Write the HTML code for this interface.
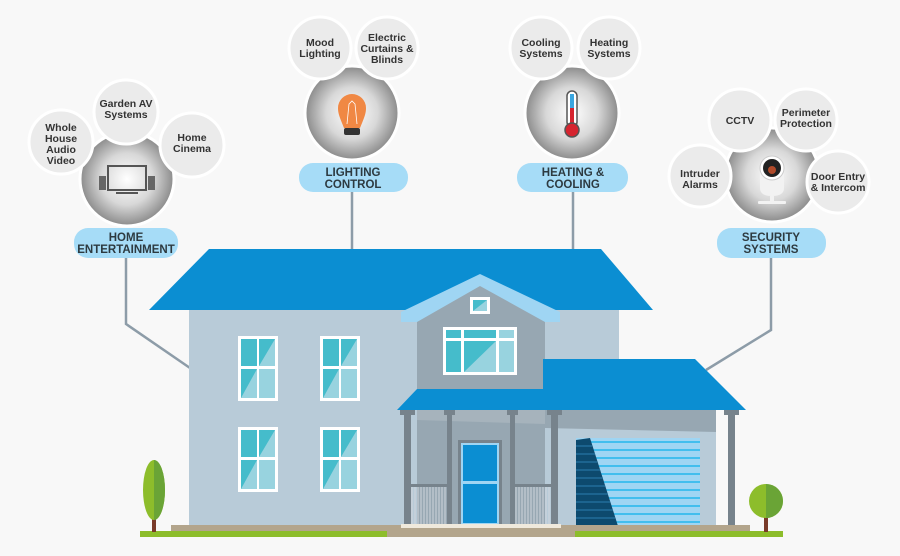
<!DOCTYPE html>
<html><head><meta charset="utf-8"><style>
html,body{margin:0;padding:0;background:#f8f8f8}
svg{display:block}
text{font-family:"Liberation Sans",sans-serif;font-weight:bold;fill:#333;text-anchor:middle}
.s{font-size:10.5px}
.l{font-size:11.5px;fill:#2d3a40}
</style></head><body>
<svg width="900" height="556" viewBox="0 0 900 556" xmlns="http://www.w3.org/2000/svg">
<defs>
<radialGradient id="g" cx="50%" cy="50%" r="50%"><stop offset="0" stop-color="#ffffff"/><stop offset="0.55" stop-color="#d8d8d8"/><stop offset="1" stop-color="#8a8a8a"/></radialGradient>
<g id="win"><rect x="0" y="0" width="40" height="65" fill="#fff"/>
<rect x="3" y="3" width="16" height="27" fill="#45bccb"/><rect x="21" y="3" width="16" height="27" fill="#98d3df"/>
<polygon points="21,3 37,3 21,30" fill="#45bccb"/>
<rect x="3" y="33" width="16" height="29" fill="#98d3df"/><polygon points="3,33 19,33 3,62" fill="#45bccb"/>
<rect x="21" y="33" width="16" height="29" fill="#98d3df"/></g>
</defs>
<rect width="900" height="556" fill="#f8f8f8"/>
<!-- connectors -->
<g stroke="#8d9ca8" stroke-width="2.5" fill="none">
<polyline points="126,257 126,324 190,368"/>
<line x1="352" y1="192" x2="352" y2="250"/>
<line x1="573" y1="192" x2="573" y2="250"/>
<polyline points="771,257 771,330 706,370"/>
</g>
<!-- house main -->
<rect x="189" y="305" width="430" height="222" fill="#b8cbd8"/>
<polygon points="209,249 601,249 653,310 149,310" fill="#0b8ed2"/>
<!-- gable -->
<polygon points="417,318 480,282 545,318 545,389 417,389" fill="#97a7b2"/>
<polygon points="401,312 480,274 560,312 560,322 545,322 480,286 417,322 401,322" fill="#9fd5f3"/>
<rect x="470" y="297" width="20" height="17" fill="#fff"/><rect x="473" y="300" width="14" height="11" fill="#98d3df"/><polygon points="473,300 487,300 473,311" fill="#45bccb"/>
<rect x="443" y="327" width="74" height="48" fill="#fff"/>
<rect x="446" y="330" width="15" height="8" fill="#45bccb"/><rect x="464" y="330" width="32" height="8" fill="#45bccb"/><rect x="499" y="330" width="15" height="8" fill="#98d3df"/>
<rect x="446" y="341" width="15" height="31" fill="#45bccb"/><rect x="464" y="341" width="32" height="31" fill="#98d3df"/><polygon points="464,341 496,341 464,372" fill="#45bccb"/><rect x="499" y="341" width="15" height="31" fill="#98d3df"/>
<!-- porch -->
<rect x="545" y="410" width="171" height="117" fill="#b8cbd8"/>
<polygon points="545,410 716,410 716,432 545,428" fill="#97a7b2"/>
<rect x="417" y="410" width="128" height="117" fill="#97a7b2"/>
<polygon points="417,410 545,410 545,424 417,420" fill="#a6b3bc"/>
<polygon points="417,389 543,389 543,359 695,359 746,410 397,410" fill="#0b8ed2"/>
<rect x="458" y="440" width="44" height="87" fill="#77838c"/>
<rect x="461" y="443" width="38" height="82" fill="#9fd5f3"/>
<rect x="463" y="445" width="34" height="36" fill="#0b8ed2"/><rect x="463" y="484" width="34" height="39" fill="#0b8ed2"/>
<!-- railings -->
<g fill="#77838c"><rect x="410" y="484" width="38" height="3"/><rect x="514" y="484" width="38" height="3"/></g>
<g stroke="#cfd6dc" stroke-width="1">
<path d="M412 487V525M415 487V525M418 487V525M421 487V525M424 487V525M427 487V525M430 487V525M433 487V525M436 487V525M439 487V525M442 487V525M445 487V525"/>
<path d="M516 487V525M519 487V525M522 487V525M525 487V525M528 487V525M531 487V525M534 487V525M537 487V525M540 487V525M543 487V525M546 487V525M549 487V525"/>
</g>
<g fill="#77838c">
<rect x="404" y="412" width="7" height="114"/><rect x="400" y="410" width="15" height="5"/>
<rect x="447" y="412" width="5" height="114"/><rect x="444" y="410" width="11" height="5"/>
<rect x="510" y="412" width="5" height="114"/><rect x="507" y="410" width="11" height="5"/>
<rect x="551" y="412" width="7" height="114"/><rect x="547" y="410" width="15" height="5"/>
<rect x="728" y="412" width="7" height="114"/><rect x="724" y="410" width="15" height="5"/>
</g>
<!-- garage door -->
<rect x="576" y="438" width="124" height="88" fill="#9fd5f3"/>
<g stroke="#23b6ec" stroke-width="1.5">
<path d="M576 442H700M576 450H700M576 458H700M576 466H700M576 474H700M576 482H700M576 490H700M576 498H700M576 506H700M576 514H700M576 522H700"/>
</g>
<polygon points="576,440 590,438 618,526 576,526" fill="#0d4a6e"/>
<g stroke="#2a7fb0" stroke-width="1"><path d="M576 446H592M576 454H595M576 462H597M576 470H600M576 478H603M576 486H605M576 494H608M576 502H610M576 510H613M576 518H615"/></g>
<!-- windows -->
<use href="#win" x="238" y="336"/><use href="#win" x="320" y="336"/>
<use href="#win" x="238" y="427"/><use href="#win" x="320" y="427"/>
<!-- ground -->
<rect x="171" y="525" width="579" height="7" fill="#b3a58c"/>
<rect x="401" y="524" width="160" height="4" fill="#efe9dc"/>
<rect x="140" y="531" width="643" height="6" fill="#8dbd2b"/>
<rect x="387" y="531" width="188" height="6" fill="#b3a58c"/>
<!-- trees -->
<rect x="152" y="505" width="4" height="27" fill="#7a3b2a"/>
<ellipse cx="154" cy="490" rx="11" ry="30" fill="#8dbd2b"/><path d="M154 460 A11 30 0 0 1 154 520Z" fill="#6aa436"/>
<rect x="764" y="505" width="4" height="27" fill="#7a3b2a"/>
<circle cx="766" cy="501" r="17" fill="#8dbd2b"/><path d="M766 484 A17 17 0 0 1 766 518Z" fill="#6aa436"/>

<!-- Home entertainment -->
<g stroke="#fff" stroke-width="3">
<circle cx="127" cy="179" r="47" fill="url(#g)"/>
<circle cx="61" cy="142" r="32" fill="#ebebeb"/><circle cx="126" cy="112" r="32" fill="#ebebeb"/><circle cx="192" cy="145" r="32" fill="#ebebeb"/>
<circle cx="352" cy="113" r="47" fill="url(#g)"/>
<circle cx="320" cy="48" r="31" fill="#ebebeb"/><circle cx="387" cy="48" r="31" fill="#ebebeb"/>
<circle cx="572" cy="113" r="47" fill="url(#g)"/>
<circle cx="541" cy="48" r="31" fill="#ebebeb"/><circle cx="609" cy="48" r="31" fill="#ebebeb"/>
<circle cx="772" cy="175" r="47" fill="url(#g)"/>
<circle cx="740" cy="120" r="31" fill="#ebebeb"/><circle cx="806" cy="120" r="31" fill="#ebebeb"/>
<circle cx="700" cy="176" r="31" fill="#ebebeb"/><circle cx="838" cy="182" r="31" fill="#ebebeb"/>
</g>
<text class="s" x="61" y="131">Whole</text><text class="s" x="61" y="142">House</text><text class="s" x="61" y="153">Audio</text><text class="s" x="61" y="164">Video</text>
<text class="s" x="126" y="107">Garden AV</text><text class="s" x="126" y="118">Systems</text>
<text class="s" x="192" y="141">Home</text><text class="s" x="192" y="152">Cinema</text>
<text class="s" x="320" y="46">Mood</text><text class="s" x="320" y="57">Lighting</text>
<text class="s" x="387" y="41">Electric</text><text class="s" x="387" y="52">Curtains &amp;</text><text class="s" x="387" y="63">Blinds</text>
<text class="s" x="541" y="46">Cooling</text><text class="s" x="541" y="57">Systems</text>
<text class="s" x="609" y="46">Heating</text><text class="s" x="609" y="57">Systems</text>
<text class="s" x="740" y="124">CCTV</text>
<text class="s" x="806" y="116">Perimeter</text><text class="s" x="806" y="127">Protection</text>
<text class="s" x="700" y="177">Intruder</text><text class="s" x="700" y="188">Alarms</text>
<text class="s" x="838" y="180">Door Entry</text><text class="s" x="838" y="191">&amp; Intercom</text>
<!-- icons -->
<rect x="108" y="166" width="38" height="24" fill="none" stroke="#555" stroke-width="2"/><rect x="116" y="192" width="22" height="2" fill="#555"/>
<rect x="99" y="176" width="7" height="14" fill="#666"/><rect x="148" y="176" width="7" height="14" fill="#666"/>
<path d="M344 128 C340 118 338 114 338 108 A14 14 0 0 1 366 108 C366 114 364 118 360 128Z" fill="#f08844"/>
<rect x="344" y="128" width="16" height="7" rx="2" fill="#333"/>
<path d="M347 124 L349 104 L352 101 L355 104 L357 124" stroke="#fff" stroke-width="0.8" fill="none"/>
<rect x="567" y="91" width="10" height="36" rx="5" fill="#fff" stroke="#555" stroke-width="1.5"/>
<rect x="570" y="94" width="4" height="14" fill="#3aa6e0"/><rect x="570" y="108" width="4" height="20" fill="#d6242f"/>
<circle cx="572" cy="130" r="7" fill="#d6242f" stroke="#555" stroke-width="1.5"/>
<path d="M760 170 Q772 166 784 170 L784 188 Q784 196 772 196 Q760 196 760 188Z" fill="#f2f2f2"/>
<rect x="770" y="196" width="4" height="6" fill="#f2f2f2"/><rect x="758" y="201" width="28" height="3" rx="1" fill="#f2f2f2"/>
<circle cx="772" cy="168" r="12" fill="#fff" stroke="#ccc"/><circle cx="772" cy="168" r="9" fill="#222"/><circle cx="772" cy="170" r="4" fill="#b04a2a"/>
<!-- labels -->
<g fill="#a6dcf7">
<rect x="74" y="228" width="104" height="30" rx="14"/>
<rect x="299" y="163" width="109" height="29" rx="14"/>
<rect x="517" y="163" width="111" height="29" rx="14"/>
<rect x="717" y="228" width="109" height="30" rx="14"/>
</g>
<text class="l" x="126" y="241">HOME</text><text class="l" x="126" y="253">ENTERTAINMENT</text>
<text class="l" x="353" y="176">LIGHTING</text><text class="l" x="353" y="188">CONTROL</text>
<text class="l" x="573" y="176">HEATING &amp;</text><text class="l" x="573" y="188">COOLING</text>
<text class="l" x="771" y="241">SECURITY</text><text class="l" x="771" y="253">SYSTEMS</text>
</svg>
</body></html>
